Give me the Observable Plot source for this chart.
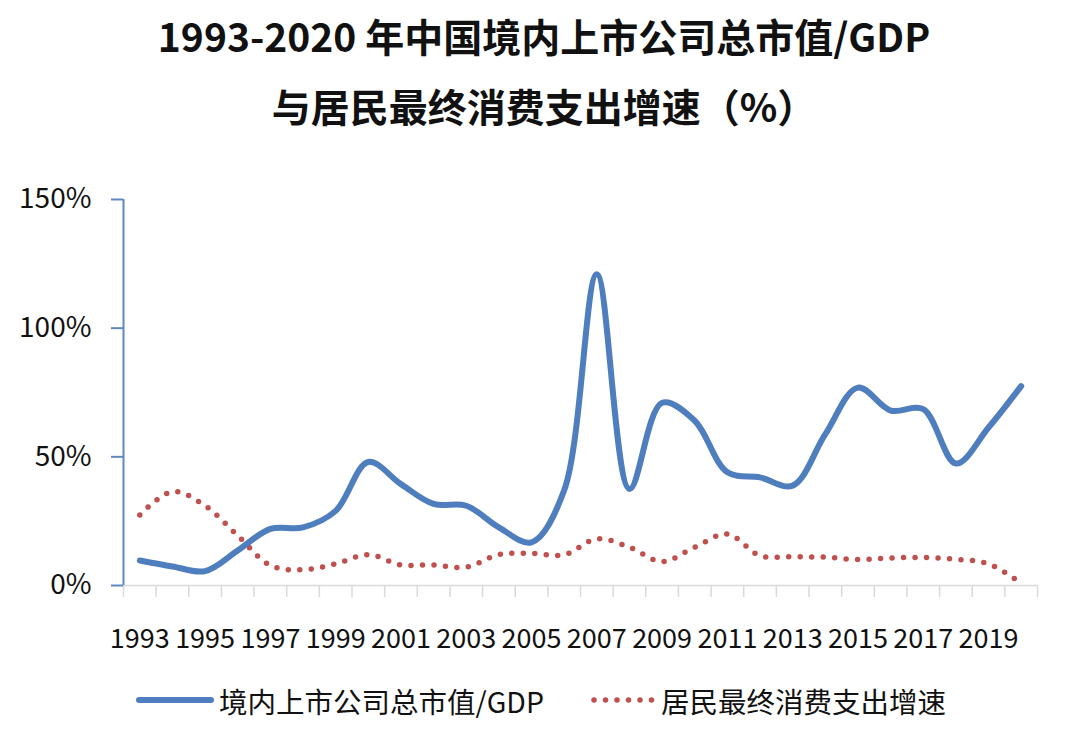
<!DOCTYPE html>
<html>
<head>
<meta charset="utf-8">
<script src="https://cdn.jsdelivr.net/npm/d3@7"></script>
<script src="https://cdn.jsdelivr.net/npm/@observablehq/plot@0.6"></script>
<style>
  html, body { margin: 0; padding: 0; background: #fff; }
  body { width: 1080px; height: 746px; position: relative; overflow: hidden; font-family: "Noto Sans CJK SC", "Noto Sans", sans-serif; color: #111; }
  .title { text-align: center; font-weight: 600; font-size: 39px; line-height: 70px; height: 140px; padding-left: 8px; }
  #chart { position: absolute; left: 0; top: 140px; }
  .legend { position: absolute; left: 0; top: 670px; width: 1080px; height: 76px; font-size: 28.5px; }
  .item { position: absolute; top: 12px; display: flex; align-items: center; height: 36px; white-space: nowrap; }
  .item svg { margin-right: 5px; }
</style>
</head>
<body>
<div class="title">1993-2020 年中国境内上市公司总市值/GDP<br>与居民最终消费支出增速（%）</div>
<div id="chart"></div>
<div class="legend">
  <div class="item" style="left:136px"><svg width="78" height="10"><line x1="3" y1="5" x2="75" y2="5" stroke="#4F7EBE" stroke-width="6" stroke-linecap="round"/></svg><span>境内上市公司总市值/GDP</span></div>
  <div class="item" style="left:590px"><svg width="66" height="10"><line x1="4" y1="5" x2="62" y2="5" stroke="#C0504D" stroke-width="5.5" stroke-linecap="round" stroke-dasharray="0 11.5"/></svg><span>居民最终消费支出增速</span></div>
</div>
<script>
const years = [1993, 1994, 1995, 1996, 1997, 1998, 1999, 2000, 2001, 2002, 2003, 2004, 2005, 2006,
               2007, 2008, 2009, 2010, 2011, 2012, 2013, 2014, 2015, 2016, 2017, 2018, 2019, 2020];
const marketCapToGDP = [9.7, 7.4, 5.6, 13.6, 22, 22.6, 29, 48, 39.4, 31.7, 31, 22.6, 16.8, 37,
                        121, 37.5, 71, 64, 44, 42, 38.8, 58.8, 76.9, 68, 68.5, 47.4, 61.4, 77.5];
const consumptionGrowth = [27.4, 36.5, 31, 19.4, 7.8, 6.1, 8.4, 12, 8, 8, 7.1, 12, 12.5, 11.9,
                           18.1, 14.9, 9.3, 14.9, 20, 11.6, 11.2, 11, 10.1, 10.7, 10.9, 10.2, 8.4, 0.9];
const yTicks = [0, 50, 100, 150];
const xLabelYears = years.filter((y, i) => i % 2 === 0);

const capData = years.map((year, i) => ({year, value: marketCapToGDP[i]}));
const consData = years.map((year, i) => ({year, value: consumptionGrowth[i]}));
const bandEdges = years.map(y => y - 0.5).concat([years[years.length - 1] + 0.5]);

const blue = "#4F7EBE";
const red = "#C0504D";

const chart = Plot.plot({
  width: 1080,
  height: 530,
  marginTop: 59,
  marginBottom: 85,
  marginLeft: 123,
  marginRight: 43,
  style: {fontFamily: "'Noto Sans CJK SC', 'Noto Sans', sans-serif", color: "#111", background: "#fff"},
  x: {domain: [years[0] - 0.5, years[years.length - 1] + 0.5], axis: null, label: null},
  y: {domain: [0, 150], axis: null, label: null},
  marks: [
    Plot.ruleY([0], {stroke: "#d9d9d9", strokeWidth: 1.5}),
    Plot.axisX({ticks: bandEdges, tickSize: 12, tickFormat: () => "", stroke: "#d9d9d9", strokeWidth: 1.5, label: null}),
    Plot.axisX({ticks: xLabelYears, tickSize: 0, tickPadding: 43, tickFormat: d => String(d), fontSize: 27, fill: "#111", label: null}),
    Plot.axisY({ticks: yTicks, tickSize: 12, tickPadding: 20, tickFormat: d => d + "%", fontSize: 28, stroke: "#5F88C2", strokeWidth: 2, fill: "#111", label: null}),
    Plot.ruleX([years[0] - 0.5], {stroke: "#5F88C2", strokeWidth: 2}),
    Plot.line(consData, {x: "year", y: "value", curve: "catmull-rom", stroke: red, strokeWidth: 5.5, strokeDasharray: "0 11.5", strokeLinecap: "round"}),
    Plot.line(capData, {x: "year", y: "value", curve: "catmull-rom", stroke: blue, strokeWidth: 6, strokeLinejoin: "round", strokeLinecap: "round"})
  ]
});
document.getElementById("chart").appendChild(chart);
</script>
</body>
</html>
